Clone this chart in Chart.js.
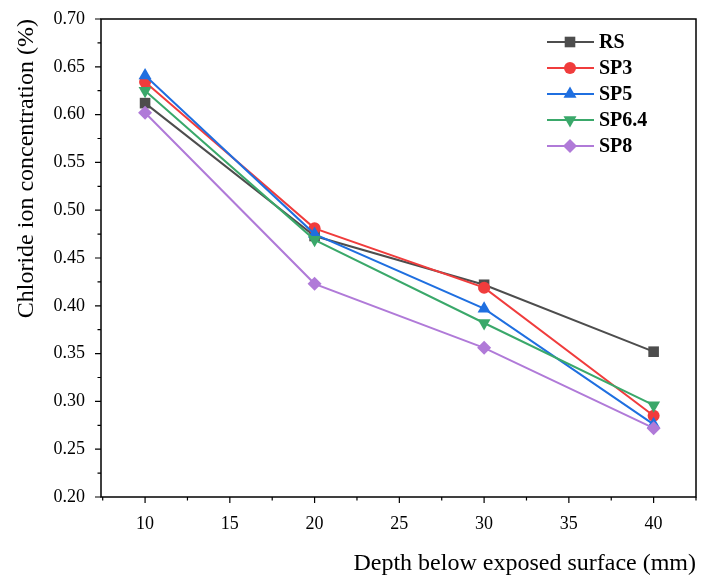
<!DOCTYPE html>
<html>
<head>
<meta charset="utf-8">
<script src="https://cdn.jsdelivr.net/npm/chart.js@4/dist/chart.umd.min.js"></script>
<style>
  html, body { margin: 0; padding: 0; background: #fff; }
  #wrap { width: 704px; height: 578px; }
</style>
</head>
<body>
<div id="wrap"><canvas id="chlorideChart" width="704" height="578"></canvas></div>
<script>
// depth values (mm)
const depths = [10, 20, 30, 40];
const seriesNames = ['RS', 'SP3', 'SP5', 'SP6.4', 'SP8'];

// chloride ion concentration (%)
const rsValues   = [0.612, 0.473, 0.422, 0.352];
const sp3Values  = [0.634, 0.481, 0.419, 0.285];
const sp5Values  = [0.641, 0.475, 0.397, 0.276];
const sp64Values = [0.625, 0.469, 0.382, 0.296];
const sp8Values  = [0.602, 0.423, 0.356, 0.272];

const xTicks = [10, 15, 20, 25, 30, 35, 40];
const yTicks = [0.20, 0.25, 0.30, 0.35, 0.40, 0.45, 0.50, 0.55, 0.60, 0.65, 0.70];

const colors = ['#4d4d4d', '#f03c3c', '#1f6fe0', '#3aa86a', '#b07ad8'];
const styles = [
  { pointStyle: 'rect', radius: 7.5, rotation: 0 },
  { pointStyle: 'circle', radius: 6, rotation: 0 },
  { pointStyle: 'triangle', radius: 7.5, rotation: 0 },
  { pointStyle: 'triangle', radius: 7.5, rotation: 180 },
  { pointStyle: 'rectRot', radius: 7, rotation: 0 }
];
const allValues = [rsValues, sp3Values, sp5Values, sp64Values, sp8Values];

const serif = "'Liberation Serif', 'Times New Roman', serif";

const datasets = seriesNames.map((name, i) => ({
  label: name,
  data: depths.map((d, j) => ({ x: d, y: allValues[i][j] })),
  borderColor: colors[i],
  backgroundColor: colors[i],
  borderWidth: 2,
  pointStyle: styles[i].pointStyle,
  pointRadius: styles[i].radius,
  pointRotation: styles[i].rotation,
  pointBorderWidth: 0,
  order: seriesNames.length - i
}));

// frame + major/minor tick marks
const framePlugin = {
  id: 'frame',
  afterDraw(chart) {
    const { ctx, chartArea: a, scales } = chart;
    ctx.save();
    ctx.strokeStyle = '#000';
    ctx.lineWidth = 1.5;
    ctx.strokeRect(a.left, a.top, a.right - a.left, a.bottom - a.top);
    ctx.lineWidth = 1.2;
    ctx.beginPath();
    for (let v = 7.5; v <= 42.5; v += 2.5) {
      const px = scales.x.getPixelForValue(v);
      if (px < a.left || px > a.right) continue;
      const len = (v % 5 === 0) ? 6 : 3.5;
      ctx.moveTo(px, a.bottom);
      ctx.lineTo(px, a.bottom + len);
    }
    for (let k = 0; k <= 20; k++) {
      const v = 0.2 + k * 0.025;
      const py = scales.y.getPixelForValue(v);
      const len = (k % 2 === 0) ? 6 : 3.5;
      ctx.moveTo(a.left, py);
      ctx.lineTo(a.left - len, py);
    }
    ctx.stroke();
    ctx.restore();
  }
};

// legend with line + marker
const legendPlugin = {
  id: 'lineLegend',
  afterDraw(chart) {
    const ctx = chart.ctx;
    ctx.save();
    chart.data.datasets.forEach((ds, i) => {
      const y = 42 + i * 26;
      ctx.strokeStyle = ds.borderColor;
      ctx.lineWidth = 2;
      ctx.beginPath();
      ctx.moveTo(547, y);
      ctx.lineTo(594, y);
      ctx.stroke();
      ctx.fillStyle = ds.backgroundColor;
      Chart.helpers.drawPoint(ctx, {
        pointStyle: ds.pointStyle,
        radius: ds.pointRadius,
        rotation: ds.pointRotation,
        borderWidth: 0
      }, 570, y);
      ctx.fillStyle = '#000';
      ctx.font = 'bold 20px ' + serif;
      ctx.textBaseline = 'middle';
      ctx.textAlign = 'left';
      ctx.fillText(ds.label, 599, y + 1);
    });
    ctx.restore();
  }
};

const ctx = document.getElementById('chlorideChart').getContext('2d');
new Chart(ctx, {
  type: 'line',
  data: { datasets: datasets },
  options: {
    responsive: false,
    animation: false,
    layout: { padding: { top: 19, right: 8, left: 0, bottom: 0 } },
    plugins: { legend: { display: false }, tooltip: { enabled: false } },
    scales: {
      x: {
        type: 'linear',
        min: 7.4,
        max: 42.5,
        afterBuildTicks: (s) => { s.ticks = xTicks.map(v => ({ value: v })); },
        afterFit: (s) => { s.height = 81; s.paddingLeft = 0; s.paddingRight = 0; },
        grid: { display: false, drawTicks: false },
        border: { display: false },
        ticks: {
          padding: 16,
          color: '#000',
          font: { family: serif, size: 18 },
          callback: (v) => String(v)
        },
        title: {
          display: true,
          text: 'Depth below exposed surface (mm)',
          align: 'end',
          color: '#000',
          font: { family: serif, size: 24 },
          padding: { top: 15, bottom: 0 }
        }
      },
      y: {
        min: 0.2,
        max: 0.7,
        afterBuildTicks: (s) => { s.ticks = yTicks.map(v => ({ value: v })); },
        afterFit: (s) => { s.width = 101; s.paddingTop = 0; s.paddingBottom = 0; },
        grid: { display: false, drawTicks: false },
        border: { display: false },
        ticks: {
          padding: 16,
          color: '#000',
          font: { family: serif, size: 18 },
          callback: (v) => v.toFixed(2)
        },
        title: {
          display: true,
          text: 'Chloride ion concentration (%)',
          align: 'end',
          color: '#000',
          font: { family: serif, size: 24 },
          padding: { top: 12, bottom: 0 }
        }
      }
    }
  },
  plugins: [framePlugin, legendPlugin]
});
</script>
</body>
</html>
